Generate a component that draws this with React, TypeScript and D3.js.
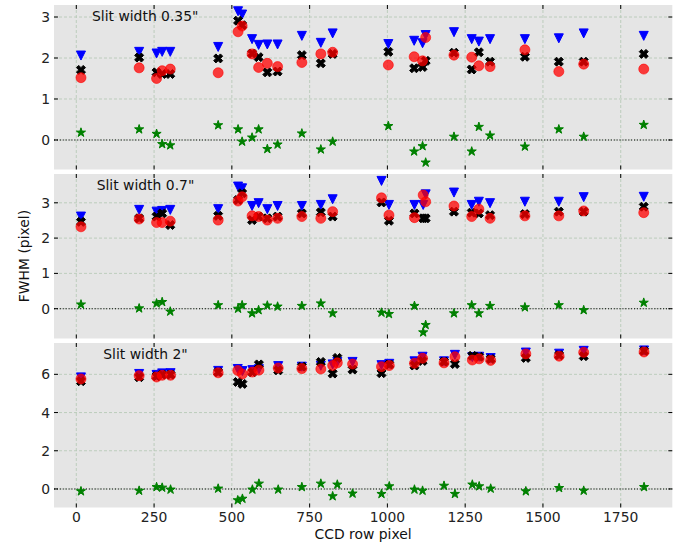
import React from "react";
import * as d3 from "d3";

// ---------- data ----------
const xTicks = [0, 250, 500, 750, 1000, 1250, 1500, 1750];

// Panel 1 : slit 0.35"
const p1X = [15, 202, 258, 276, 302, 456, 520, 533, 565, 586, 614, 647, 725, 786, 824, 1003, 1086, 1113, 1123, 1214, 1271, 1294, 1330, 1442, 1551, 1631, 1824];
const p1Blue = [2.06, 2.15, 2.11, 2.15, 2.15, 2.27, 3.14, 3.06, 2.46, 2.32, 2.33, 2.33, 2.54, 2.37, 2.60, 2.34, 2.42, 2.36, 2.56, 2.63, 2.46, 2.40, 2.46, 2.46, 2.48, 2.60, 2.54];
const p1Black = [1.71, 2.01, 1.65, 1.61, 1.61, 1.99, 2.91, 2.80, 2.11, 2.02, 1.65, 1.67, 2.07, 1.87, 2.10, 2.15, 1.75, 1.78, 1.93, 2.13, 1.72, 2.14, 1.91, 2.03, 1.91, 1.91, 2.10];
const p1Red = [1.52, 1.76, 1.50, 1.69, 1.73, 1.64, 2.64, 2.78, 2.10, 1.77, 1.87, 1.79, 1.89, 2.10, 2.14, 1.83, 2.03, 1.93, 2.50, 2.07, 2.02, 1.81, 1.79, 2.20, 1.67, 1.85, 1.73];
const p1Star = [0.18, 0.26, 0.15, -0.10, -0.13, 0.36, 0.26, -0.04, 0.06, 0.26, -0.22, -0.11, 0.16, -0.23, -0.04, 0.34, -0.28, -0.15, -0.55, 0.08, -0.28, 0.32, 0.11, -0.16, 0.26, 0.08, 0.37];

// Panel 2 : slit 0.7"
const p2X = [15, 202, 258, 276, 302, 456, 520, 533, 565, 586, 614, 647, 725, 786, 824, 981, 1005, 1087, 1115, 1123, 1214, 1271, 1294, 1330, 1442, 1551, 1631, 1824];
const p2Blue = [2.61, 2.80, 2.75, 2.77, 2.80, 2.82, 3.46, 3.41, 2.91, 2.99, 2.82, 2.91, 2.91, 2.94, 3.10, 3.62, 2.94, 2.94, 2.94, 3.24, 3.29, 2.94, 3.03, 2.99, 3.03, 3.03, 3.16, 3.17];
const p2Black = [2.46, 2.56, 2.61, 2.70, 2.37, 2.63, 3.08, 3.27, 2.51, 2.61, 2.56, 2.61, 2.70, 2.73, 2.61, 3.01, 2.49, 2.70, 2.56, 2.56, 2.75, 2.72, 2.70, 2.65, 2.68, 2.75, 2.75, 2.89];
const p2Red = [2.32, 2.54, 2.44, 2.44, 2.48, 2.51, 3.05, 3.17, 2.63, 2.61, 2.51, 2.56, 2.61, 2.56, 2.75, 3.14, 2.65, 2.58, 3.22, 3.03, 2.91, 2.61, 2.82, 2.56, 2.63, 2.63, 2.77, 2.72];
const p2Star = [0.12, 0.01, 0.15, 0.19, -0.08, 0.10, 0.00, 0.10, -0.13, -0.04, 0.09, 0.06, 0.08, 0.15, -0.13, -0.11, -0.15, 0.08, -0.67, -0.46, -0.13, 0.10, -0.13, 0.08, 0.04, 0.10, -0.04, 0.17];

// Panel 3 : slit 2"
const p3X = [15, 202, 258, 276, 303, 456, 519, 534, 566, 587, 649, 725, 786, 824, 839, 888, 981, 1006, 1087, 1113, 1182, 1217, 1273, 1295, 1332, 1445, 1552, 1631, 1825];
const p3Blue = [5.84, 6.02, 5.97, 6.05, 6.06, 6.18, 6.28, 6.17, 6.22, 6.27, 6.43, 6.40, 6.45, 6.52, 6.65, 6.65, 6.48, 6.55, 6.68, 6.92, 6.68, 7.02, 6.90, 6.92, 6.85, 7.14, 7.08, 7.23, 7.25];
const p3Black = [5.64, 5.85, 5.90, 5.98, 5.98, 6.11, 5.60, 5.50, 6.11, 6.52, 6.21, 6.40, 6.65, 6.04, 6.86, 6.25, 6.06, 6.51, 6.46, 6.70, 6.66, 6.54, 6.97, 6.92, 6.80, 6.86, 7.00, 6.95, 7.22];
const p3Red = [5.76, 5.93, 5.86, 5.95, 5.95, 6.08, 6.20, 6.02, 6.12, 6.22, 6.33, 6.30, 6.28, 6.46, 6.60, 6.54, 6.40, 6.46, 6.58, 6.84, 6.60, 6.92, 6.75, 6.81, 6.73, 7.07, 6.95, 7.15, 7.17];
const p3Star = [-0.12, -0.09, 0.10, 0.07, -0.03, 0.02, -0.59, -0.51, -0.03, 0.28, -0.03, 0.10, 0.28, -0.38, 0.23, -0.24, -0.26, 0.14, -0.03, -0.09, 0.17, -0.26, 0.23, 0.14, 0.02, -0.12, 0.05, -0.09, 0.10];

const p1Ticks = [0, 1, 2, 3];
const p2Ticks = [0, 1, 2, 3];
const p3Ticks = [0, 2, 4, 6];

const labels = ['Slit width 0.35"', 'Slit width 0.7"', 'Slit width 2"'];

// ---------- layout ----------
const W = 680, H = 544;
const left = 54, right = 672.3;
const FONT = "DejaVu Sans, sans-serif";
const FS = 13.9;

const panels = [
  { x: p1X, blue: p1Blue, black: p1Black, red: p1Red, star: p1Star, ticks: p1Ticks, domain: [-0.72, 3.293], top: 5, bottom: 169.5, label: labels[0], labelDx: 38 },
  { x: p2X, blue: p2Blue, black: p2Black, red: p2Red, star: p2Star, ticks: p2Ticks, domain: [-0.844, 3.816], top: 174, bottom: 338.5, label: labels[1], labelDx: 42.7 },
  { x: p3X, blue: p3Blue, black: p3Black, red: p3Red, star: p3Star, ticks: p3Ticks, domain: [-0.97, 7.64], top: 343, bottom: 507.5, label: labels[2], labelDx: 49.3 },
];

const xScale = d3.scaleLinear().domain([-71.7, 1915.8]).range([left, right]);

const MS = 9;

function triDown(s: number) {
  const h = s / 2;
  return `M${-h},${-h}L${h},${-h}L0,${h}Z`;
}
function xFilled(s: number) {
  const pts = [[-1, -2], [0, -1], [1, -2], [2, -1], [1, 0], [2, 1], [1, 2], [0, 1], [-1, 2], [-2, 1], [-1, 0], [-2, -1]];
  const k = s / 4;
  return "M" + pts.map(([a, b]) => `${a * k},${b * k}`).join("L") + "Z";
}
function star(s: number) {
  const R = s / 2, r = R * 0.381966;
  const pts: string[] = [];
  for (let i = 0; i < 10; i++) {
    const ang = -Math.PI / 2 + (i * Math.PI) / 5;
    const rad = i % 2 === 0 ? R : r;
    pts.push(`${(rad * Math.cos(ang)).toFixed(3)},${(rad * Math.sin(ang)).toFixed(3)}`);
  }
  return "M" + pts.join("L") + "Z";
}

const triPath = triDown(MS);
const xPath = xFilled(MS);
const starPath = star(MS + 0.6);

export default function App() {
  return (
    <svg width={W} height={H} style={{ position: "absolute", left: 0, top: 0, background: "#fff" }} fontFamily={FONT}>
      {panels.map((p, pi) => {
        const y = d3.scaleLinear().domain(p.domain).range([p.bottom, p.top]);
        return (
          <g key={pi}>
            <rect x={left} y={p.top} width={right - left} height={p.bottom - p.top} fill="#E5E5E5" />
            {/* grid */}
            {xTicks.map((t) => (
              <line key={"gx" + t} x1={xScale(t)} x2={xScale(t)} y1={p.top} y2={p.bottom} stroke="#b3c6b3" strokeWidth={0.8} strokeDasharray="3,2" />
            ))}
            {p.ticks.map((t) => (
              <line key={"gy" + t} x1={left} x2={right} y1={y(t)} y2={y(t)} stroke="#b3c6b3" strokeWidth={0.8} strokeDasharray="3,2" />
            ))}
            {/* zero line */}
            <line x1={left} x2={right} y1={y(0)} y2={y(0)} stroke="#000" strokeWidth={1.1} strokeDasharray="1.1,1.8" />
            {/* ticks */}
            {xTicks.map((t) => (
              <g key={"tx" + t}>
                <line x1={xScale(t)} x2={xScale(t)} y1={p.top} y2={p.top + 4} stroke="#000" strokeWidth={1} />
                <line x1={xScale(t)} x2={xScale(t)} y1={p.bottom} y2={p.bottom - 4} stroke="#000" strokeWidth={1} />
              </g>
            ))}
            {p.ticks.map((t) => (
              <g key={"ty" + t}>
                <line x1={left} x2={left + 4} y1={y(t)} y2={y(t)} stroke="#000" strokeWidth={1} />
                <line x1={right} x2={right - 4} y1={y(t)} y2={y(t)} stroke="#000" strokeWidth={1} />
                <text x={left - 4} y={y(t)} dy="0.36em" textAnchor="end" fontSize={FS} fill="#222">{t}</text>
              </g>
            ))}
            {/* markers */}
            {p.x.map((xv, i) => (
              <path key={"b" + i} d={triPath} transform={`translate(${xScale(xv)},${y(p.blue[i])})`} fill="#0000ff" stroke="#0000ff" strokeWidth={1} />
            ))}
            {p.x.map((xv, i) => (
              <path key={"k" + i} d={xPath} transform={`translate(${xScale(xv)},${y(p.black[i])})`} fill="#000" stroke="#000" strokeWidth={1} />
            ))}
            {p.x.map((xv, i) => (
              <circle key={"r" + i} cx={xScale(xv)} cy={y(p.red[i])} r={MS / 2 + 0.5} fill="#ff0000" fillOpacity={0.75} stroke="#ff0000" strokeOpacity={0.75} strokeWidth={0.8} />
            ))}
            {p.x.map((xv, i) => (
              <path key={"s" + i} d={starPath} transform={`translate(${xScale(xv)},${y(p.star[i])})`} fill="#008000" stroke="#008000" strokeWidth={1} />
            ))}
            <text x={left + p.labelDx} y={p.top + 15.6} fontSize={FS} fill="#111">{p.label}</text>
          </g>
        );
      })}
      {xTicks.map((t) => (
        <text key={"xl" + t} x={xScale(t)} y={522} textAnchor="middle" fontSize={FS} fill="#222">{t}</text>
      ))}
      <text x={(left + right) / 2} y={538.5} textAnchor="middle" fontSize={FS} fill="#111">CCD row pixel</text>
      <text transform={`translate(29,256) rotate(-90)`} textAnchor="middle" fontSize={FS} fill="#111">FWHM (pixel)</text>
    </svg>
  );
}
